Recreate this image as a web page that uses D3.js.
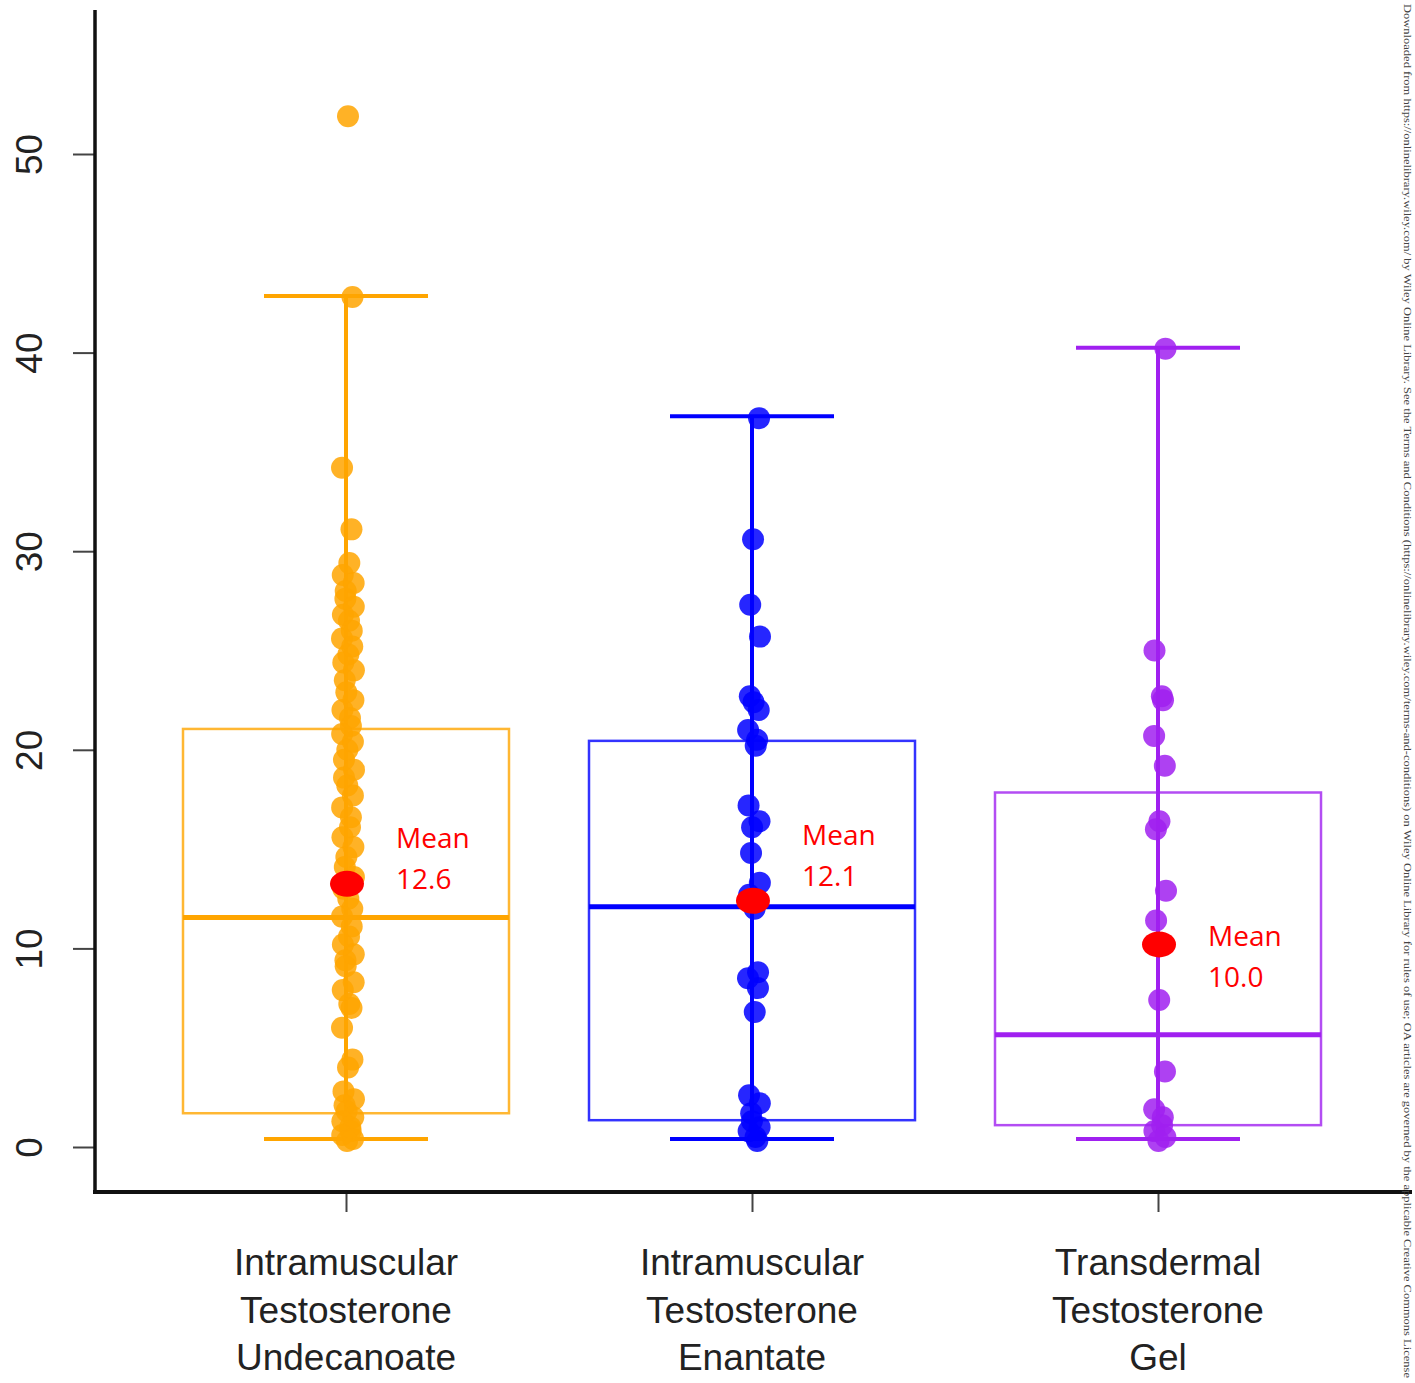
<!DOCTYPE html>
<html>
<head>
<meta charset="utf-8">
<script src="https://cdn.jsdelivr.net/npm/d3@7"></script>
<style>
  body { margin: 0; background: #fff; }
</style>
</head>
<body>
<div id="chart-holder"></div>
<script>
// categories and values
var groups = ["Intramuscular Testosterone Undecanoate", "Intramuscular Testosterone Enantate", "Transdermal Testosterone Gel"];
var groupLines = [
  ["Intramuscular", "Testosterone", "Undecanoate"],
  ["Intramuscular", "Testosterone", "Enantate"],
  ["Transdermal", "Testosterone", "Gel"]
];
var groupColors = ["#FFA500", "#0000FF", "#A020F0"];

var q1 = [1.7, 1.35, 1.1];
var medians = [11.55, 12.1, 5.65];
var q3 = [21.05, 20.45, 17.85];
var whiskerLow = [0.4, 0.4, 0.4];
var whiskerHigh = [42.85, 36.8, 40.25];

var meanMarks = [13.25, 12.4, 10.2];
var meanLabels = ["12.6", "12.1", "10.0"];
var meanLabelAt = [15.05, 15.2, 10.1];

var undecanoate = [51.9, 42.8, 34.2, 31.1, 29.4, 28.8, 28.4, 28.0, 27.6, 27.2, 26.8, 26.5, 26.0, 25.6, 25.2,
  24.8, 24.4, 24.0, 23.5, 22.9, 22.5, 22.0, 21.6, 21.2, 20.8, 20.4, 20.0, 19.5, 19.0, 18.6, 18.2,
  17.7, 17.1, 16.6, 16.1, 15.6, 15.1, 14.6, 14.1, 13.6, 13.0, 12.5, 12.0, 11.6, 11.1, 10.6, 10.2,
  9.7, 9.4, 9.1, 8.3, 7.9, 7.2, 7.0, 6.0, 4.4, 4.0, 2.8, 2.4, 2.1, 1.8, 1.5, 1.3, 1.0, 0.8, 0.6, 0.4, 0.3];
var enantate = [36.7, 30.6, 27.3, 25.7, 22.7, 22.4, 22.0, 21.0, 20.5, 20.2, 17.2, 16.4, 16.1, 14.8,
  13.3, 12.7, 12.0, 8.8, 8.5, 8.0, 6.8, 2.6, 2.2, 1.7, 1.3, 1.0, 0.8, 0.5, 0.3];
var gel = [40.2, 25.0, 22.7, 22.5, 20.7, 19.2, 16.4, 16.0, 12.9, 11.4, 7.4, 3.8, 1.9, 1.5, 1.1, 0.8, 0.5, 0.3];

var yTicks = [0, 10, 20, 30, 40, 50];

var watermark = "Downloaded from https://onlinelibrary.wiley.com/ by Wiley Online Library. See the Terms and Conditions (https://onlinelibrary.wiley.com/terms-and-conditions) on Wiley Online Library for rules of use; OA articles are governed by the applicable Creative Commons License";

var points = [undecanoate, enantate, gel];

// size of the picture
var width = 1415,
  height = 1383;

var svg = d3.select("#chart-holder")
  .append("svg")
  .attr("width", width)
  .attr("height", height);

///////////////////////////////////////////////////////////////////////////////////////////
// scales
var x = d3.scalePoint()
  .domain(groups)
  .range([346, 1158]);

var y = d3.scaleLinear()
  .domain([0, 50])
  .range([1147, 154]);

var boxHalf = 163,
  capHalf = 82;

///////////////////////////////////////////////////////////////////////////////////////////
// Y axis
var yAxis = svg.append("g")
  .attr("transform", "translate(95,0)")
  .call(d3.axisLeft(y).tickValues(yTicks).tickSize(22).tickPadding(14));

yAxis.select(".domain").remove();
yAxis.selectAll(".tick line")
  .attr("stroke", "#444")
  .attr("stroke-width", 2);
yAxis.selectAll(".tick text")
  .attr("x", null)
  .attr("dy", null)
  .attr("transform", "translate(-53,0) rotate(-90)")
  .style("text-anchor", "middle")
  .style("font-family", "'Liberation Sans', Arial, sans-serif")
  .style("font-size", "37px")
  .style("fill", "#222");

svg.append("line")
  .attr("x1", 95).attr("x2", 95)
  .attr("y1", 10).attr("y2", 1193)
  .attr("stroke", "#111")
  .attr("stroke-width", 3.5);

///////////////////////////////////////////////////////////////////////////////////////////
// X axis
var xAxis = svg.append("g")
  .attr("transform", "translate(0,1192)")
  .call(d3.axisBottom(x).tickSize(20).tickFormat(""));

xAxis.select(".domain").remove();
xAxis.selectAll(".tick line")
  .attr("stroke", "#444")
  .attr("stroke-width", 2);

svg.append("line")
  .attr("x1", 93).attr("x2", 1412)
  .attr("y1", 1192).attr("y2", 1192)
  .attr("stroke", "#111")
  .attr("stroke-width", 4);

groups.forEach(function (g, i) {
  var t = svg.append("text")
    .attr("x", x(g))
    .attr("y", 1275)
    .style("text-anchor", "middle")
    .style("font-family", "'Liberation Sans', Arial, sans-serif")
    .style("font-size", "37px")
    .style("fill", "#222");
  groupLines[i].forEach(function (line, k) {
    t.append("tspan")
      .attr("x", x(g))
      .attr("dy", k === 0 ? 0 : 47.5)
      .text(line);
  });
});

///////////////////////////////////////////////////////////////////////////////////////////
// boxes, whiskers and medians
var box = svg.selectAll("g.box")
  .data(groups)
  .enter()
  .append("g")
  .attr("class", "box");

box.append("rect")
  .attr("x", function (d) { return x(d) - boxHalf; })
  .attr("y", function (d, i) { return y(q3[i]); })
  .attr("width", boxHalf * 2)
  .attr("height", function (d, i) { return y(q1[i]) - y(q3[i]); })
  .attr("fill", "none")
  .attr("stroke", function (d, i) { return groupColors[i]; })
  .attr("stroke-opacity", 0.8)
  .attr("stroke-width", 2.5);

box.append("line")
  .attr("x1", function (d) { return x(d); })
  .attr("x2", function (d) { return x(d); })
  .attr("y1", function (d, i) { return y(whiskerHigh[i]); })
  .attr("y2", function (d, i) { return y(whiskerLow[i]); })
  .attr("stroke", function (d, i) { return groupColors[i]; })
  .attr("stroke-width", 4);

box.append("line")
  .attr("x1", function (d) { return x(d) - capHalf; })
  .attr("x2", function (d) { return x(d) + capHalf; })
  .attr("y1", function (d, i) { return y(whiskerHigh[i]); })
  .attr("y2", function (d, i) { return y(whiskerHigh[i]); })
  .attr("stroke", function (d, i) { return groupColors[i]; })
  .attr("stroke-width", 4);

box.append("line")
  .attr("x1", function (d) { return x(d) - capHalf; })
  .attr("x2", function (d) { return x(d) + capHalf; })
  .attr("y1", function (d, i) { return y(whiskerLow[i]); })
  .attr("y2", function (d, i) { return y(whiskerLow[i]); })
  .attr("stroke", function (d, i) { return groupColors[i]; })
  .attr("stroke-width", 4);

box.append("line")
  .attr("x1", function (d) { return x(d) - boxHalf; })
  .attr("x2", function (d) { return x(d) + boxHalf; })
  .attr("y1", function (d, i) { return y(medians[i]); })
  .attr("y2", function (d, i) { return y(medians[i]); })
  .attr("stroke", function (d, i) { return groupColors[i]; })
  .attr("stroke-width", 5);

///////////////////////////////////////////////////////////////////////////////////////////
// jittered points
groups.forEach(function (g, i) {
  svg.append("g")
    .selectAll("circle")
    .data(points[i])
    .enter()
    .append("circle")
    .attr("cx", function (d, k) { return x(g) + 2 + 6 * Math.sin(k * 2.3 + i); })
    .attr("cy", function (d) { return y(d); })
    .attr("r", 11)
    .style("fill", groupColors[i])
    .style("fill-opacity", 0.85);
});

///////////////////////////////////////////////////////////////////////////////////////////
// means
svg.selectAll("ellipse.mean")
  .data(groups)
  .enter()
  .append("ellipse")
  .attr("class", "mean")
  .attr("cx", function (d) { return x(d) + 1; })
  .attr("cy", function (d, i) { return y(meanMarks[i]); })
  .attr("rx", 17)
  .attr("ry", 13)
  .style("fill", "#FF0000");

groups.forEach(function (g, i) {
  var t = svg.append("text")
    .attr("x", x(g) + 50)
    .attr("y", y(meanLabelAt[i]))
    .style("font-family", "'Open Sans', sans-serif")
    .style("font-size", "28px")
    .style("fill", "#FF0000");
  t.append("tspan").attr("x", x(g) + 50).text("Mean");
  t.append("tspan").attr("x", x(g) + 50).attr("dy", 41).text(meanLabels[i]);
});

///////////////////////////////////////////////////////////////////////////////////////////
// side strip text
svg.append("text")
  .attr("transform", "translate(1404,4) rotate(90)")
  .attr("textLength", 1374)
  .attr("lengthAdjust", "spacingAndGlyphs")
  .style("font-family", "'Liberation Serif', serif")
  .style("font-size", "10px")
  .style("fill", "#444")
  .text(watermark);
</script>
</body>
</html>
